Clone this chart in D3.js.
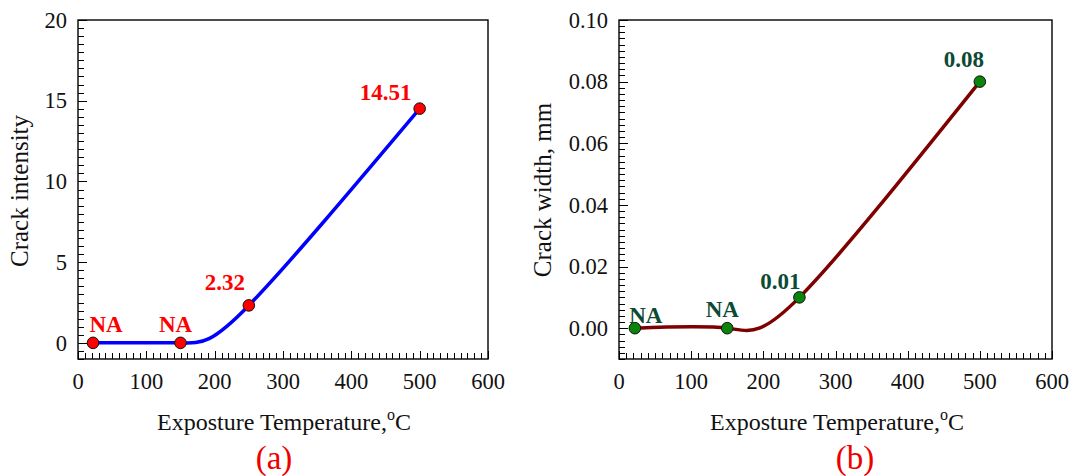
<!DOCTYPE html>
<html><head><meta charset="utf-8">
<script src="https://cdn.jsdelivr.net/npm/d3@7"></script>
<style>
body{margin:0;background:#fff;}
svg{display:block;font-family:"Liberation Serif","Times New Roman",serif;}
</style></head>
<body><svg id="chart" width="1076" height="476"></svg>
<script>
// ---- data ----
const temperatures = [22, 150, 250, 500];
const crackIntensity = [0, 0, 2.32, 14.51];
const crackIntensityLabels = ["NA", "NA", "2.32", "14.51"];
const crackWidth = [0, 0, 0.01, 0.08];
const crackWidthLabels = ["NA", "NA", "0.01", "0.08"];
const xTicks = [0, 100, 200, 300, 400, 500, 600];
const yTicksA = [0, 5, 10, 15, 20];
const yTicksB = [0, 0.02, 0.04, 0.06, 0.08, 0.10];
// label offsets (px) relative to each point: [dx, dy]
const labelOffsetsA = [[13, -11], [-5, -11], [-24, -15], [-34, -9]];
const labelOffsetsB = [[11, -5], [-5, -11], [-19, -8], [-16, -15]];

const svg = d3.select("#chart");

function panel(cfg) {
  const g = svg.append("g");
  const x = d3.scaleLinear().domain([0, 600]).range([cfg.left, cfg.right]);
  const y = d3.scaleLinear().domain(cfg.yDomain).range([cfg.bottom, cfg.top]);

  const yMinor = d3.range(cfg.yDomain[0], cfg.yDomain[1] + cfg.yMinorStep / 2, cfg.yMinorStep);
  g.append("g").selectAll("line").data(yMinor).join("line")
    .attr("x1", cfg.left).attr("x2", d => cfg.left + (cfg.yMajor.some(m => Math.abs(m - d) < cfg.yMinorStep / 10) ? 9 : 6))
    .attr("y1", d => Math.round(y(d)) + 0.5).attr("y2", d => Math.round(y(d)) + 0.5)
    .attr("stroke", "#000").attr("stroke-width", 1);
  const xMinor = d3.range(0, 601, 10);
  g.append("g").selectAll("line").data(xMinor).join("line")
    .attr("y1", cfg.bottom).attr("y2", d => cfg.bottom - (d % 100 === 0 ? 8 : 6))
    .attr("x1", d => Math.round(x(d)) + 0.5).attr("x2", d => Math.round(x(d)) + 0.5)
    .attr("stroke", "#000").attr("stroke-width", 1);

  g.append("rect").attr("x", cfg.left).attr("y", cfg.top)
    .attr("width", cfg.right - cfg.left).attr("height", cfg.bottom - cfg.top)
    .attr("fill", "none").attr("stroke", "#000").attr("stroke-width", 1.4);

  g.append("g").selectAll("text").data(xTicks).join("text")
    .attr("x", d => x(d)).attr("y", cfg.bottom + 30)
    .attr("text-anchor", "middle").attr("font-size", 22.5).attr("fill", "#111")
    .text(d => d);
  g.append("g").selectAll("text").data(cfg.yMajor).join("text")
    .attr("x", cfg.left - 11).attr("y", d => y(d)).attr("dy", "0.34em")
    .attr("text-anchor", "end").attr("font-size", 22.5).attr("fill", "#111")
    .text(cfg.yFormat);

  const line = d3.line().x(d => x(d[0])).y(d => y(d[1])).curve(cfg.curve);
  const pts = temperatures.map((t, i) => [t, cfg.values[i]]);
  g.append("path").datum(pts).attr("d", line)
    .attr("fill", "none").attr("stroke", cfg.lineColor).attr("stroke-width", 3.5)
    .attr("stroke-linecap", "round");

  g.append("g").selectAll("circle").data(pts).join("circle")
    .attr("cx", d => x(d[0])).attr("cy", d => y(d[1])).attr("r", 5.8)
    .attr("fill", cfg.pointColor).attr("stroke", "#111").attr("stroke-width", 1);

  g.append("g").selectAll("text").data(pts).join("text")
    .attr("x", (d, i) => x(d[0]) + cfg.offsets[i][0])
    .attr("y", (d, i) => y(d[1]) + cfg.offsets[i][1])
    .attr("text-anchor", "middle").attr("font-size", 23).attr("font-weight", "bold")
    .attr("fill", cfg.labelColor)
    .text((d, i) => cfg.labels[i]);

  const xt = g.append("text").attr("x", cfg.xTitleX).attr("y", 430)
    .attr("text-anchor", "middle").attr("font-size", 24).attr("fill", "#111");
  xt.append("tspan").text("Exposture Temperature,");
  xt.append("tspan").attr("font-size", 16).attr("dy", -10).text("o");
  xt.append("tspan").attr("dy", 10).text("C");

  g.append("text").attr("transform", `translate(${cfg.yTitleX},${cfg.yTitleY}) rotate(-90)`)
    .attr("text-anchor", "middle").attr("font-size", 25).attr("fill", "#111")
    .text(cfg.yTitle);

  g.append("text").attr("x", cfg.tagX).attr("y", 469)
    .attr("text-anchor", "middle").attr("font-size", 33).attr("fill", "#ee0000")
    .text(cfg.tag);
}

panel({
  left: 78, right: 488, top: 20, bottom: 359,
  yDomain: [-1, 20], yMajor: yTicksA, yMinorStep: 0.5, yFormat: d => d,
  values: crackIntensity, labels: crackIntensityLabels, offsets: labelOffsetsA,
  curve: d3.curveNatural, lineColor: "#0000ff", pointColor: "#ff0000", labelColor: "#ff0000",
  xTitleX: 284, yTitleX: 28, yTitleY: 191, yTitle: "Crack intensity",
  tagX: 274, tag: "(a)"
});

panel({
  left: 619, right: 1052, top: 20, bottom: 359,
  yDomain: [-0.01, 0.10], yMajor: yTicksB, yMinorStep: 0.002, yFormat: d3.format(".2f"),
  values: crackWidth, labels: crackWidthLabels, offsets: labelOffsetsB,
  curve: d3.curveNatural, lineColor: "#7f0000", pointColor: "#0a840a", labelColor: "#0c4a36",
  xTitleX: 837, yTitleX: 551, yTitleY: 190, yTitle: "Crack width, mm",
  tagX: 855, tag: "(b)"
});
</script></body></html>
